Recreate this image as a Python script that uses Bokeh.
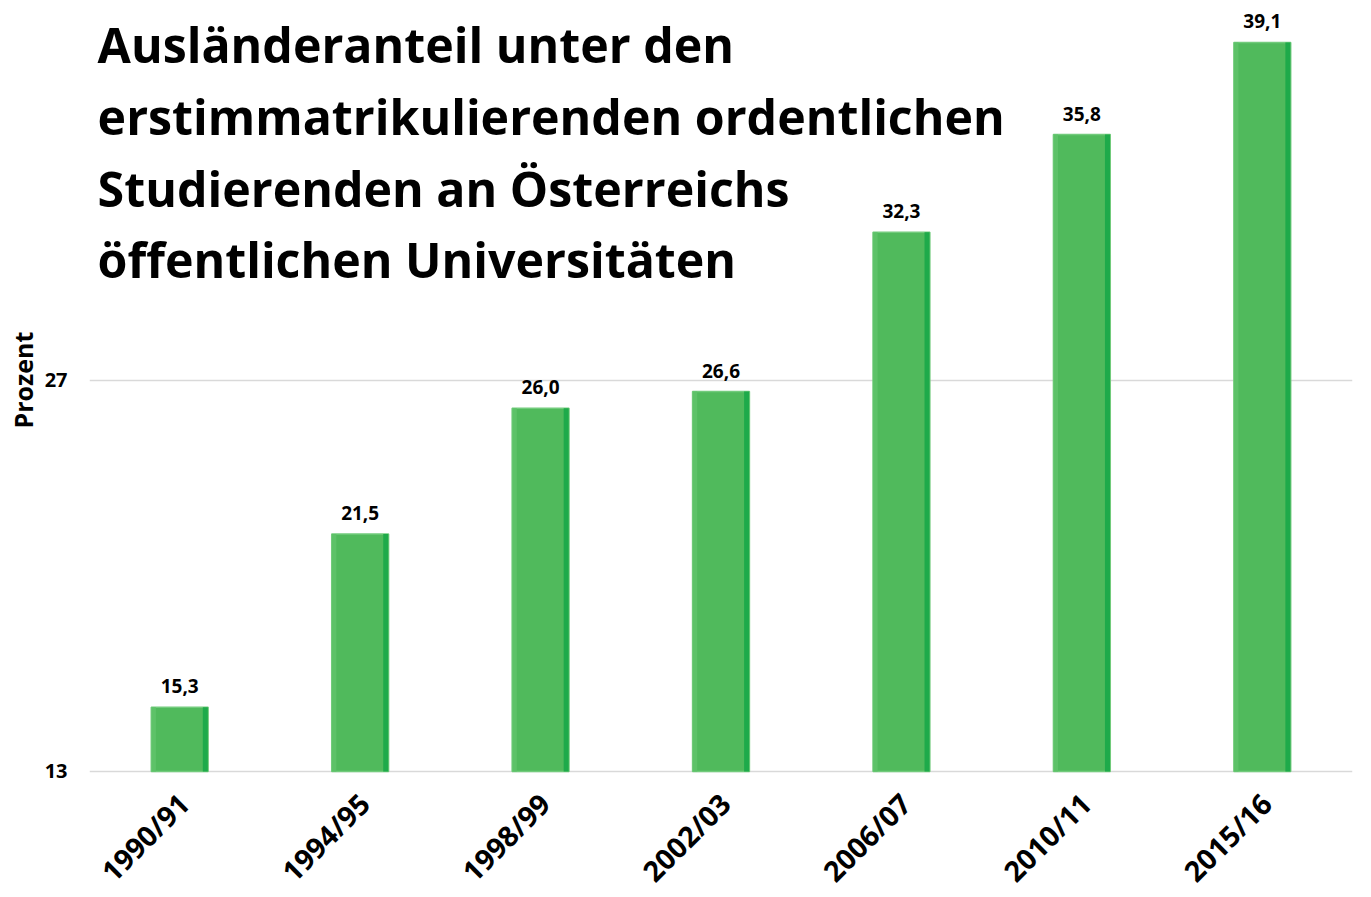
from bokeh.plotting import figure
from bokeh.models import ColumnDataSource, Range1d, FactorRange, FixedTicker, Label, LabelSet
from bokeh.transform import dodge
from bokeh.core.properties import value
from bokeh.embed import file_html
from bokeh.resources import INLINE

years = ["1990/91", "1994/95", "1998/99", "2002/03", "2006/07", "2010/11", "2015/16"]
values = [15.3, 21.5, 26.0, 26.6, 32.3, 35.8, 39.1]
value_labels = ["15,3", "21,5", "26,0", "26,6", "32,3", "35,8", "39,1"]
y_ticks = [13, 27]
title_lines = [
    "Ausländeranteil unter den",
    "erstimmatrikulierenden ordentlichen",
    "Studierenden an Österreichs",
    "öffentlichen Universitäten",
]
y_label = "Prozent"

FONT = "Open Sans"
Y0 = 13

src = ColumnDataSource(dict(x=years, top=values, lab=value_labels))

# the frame reaches the bottom edge so that the rotated category labels
# (drawn below the 13 baseline) are not clipped
p = figure(
    x_range=FactorRange(*years, range_padding=0),
    y_range=Range1d(8.775, 40.6),
    width=1363, height=889,
    output_backend="svg", toolbar_location=None,
    min_border_left=89, min_border_right=11, min_border_top=0, min_border_bottom=0,
)
p.outline_line_color = None
p.background_fill_color = "white"
p.border_fill_color = "white"

# main bars
p.vbar(x="x", top="top", bottom=Y0, width=0.315, source=src,
       fill_color="#50BA5C", line_color="#72CB7C", line_width=1.5)
# bevel: darker right edge strip
p.vbar(x=dodge("x", 0.142, range=p.x_range), top="top", bottom=Y0, width=0.028, source=src,
       fill_color="#1EAA4A", line_color=None)
# lighter left edge strip
p.vbar(x=dodge("x", -0.144, range=p.x_range), top="top", bottom=Y0, width=0.024, source=src,
       fill_color="#5DC268", line_color=None)

labels = LabelSet(x="x", y="top", text="lab", source=src, x_offset=0, y_offset=14,
                  text_align="center", text_baseline="bottom",
                  text_font=value(FONT), text_font_style="bold", text_font_size="19px",
                  text_color="black")
p.add_layout(labels)

# category labels (rotated 45°)
cat_labels = LabelSet(x="x", y=Y0, text="x", source=src, x_offset=4, y_offset=-27,
                      angle=0.785398, text_align="right", text_baseline="middle",
                      text_font=value(FONT), text_font_style="bold", text_font_size="28.5px",
                      text_color="black")
p.add_layout(cat_labels)
p.xaxis.visible = False

# y axis
p.yaxis.ticker = FixedTicker(ticks=y_ticks)
p.yaxis.axis_line_color = None
p.yaxis.major_tick_line_color = None
p.yaxis.minor_tick_line_color = None
p.yaxis.major_tick_out = 0
p.yaxis.major_tick_in = 0
p.yaxis.minor_tick_out = 0
p.yaxis.major_label_text_font = FONT
p.yaxis.major_label_text_font_style = "bold"
p.yaxis.major_label_text_font_size = "20px"
p.yaxis.major_label_text_color = "black"
p.yaxis.major_label_standoff = 22
# leading no-break spaces lift the centred axis title to the reference's height
p.yaxis.axis_label = "\u00a0" * 20 + y_label
p.yaxis.axis_label_text_font = FONT
p.yaxis.axis_label_text_font_style = "bold"
p.yaxis.axis_label_text_font_size = "25px"
p.yaxis.axis_label_text_color = "black"
p.yaxis.axis_label_standoff = 2

p.xgrid.grid_line_color = None
p.ygrid.ticker = FixedTicker(ticks=y_ticks)
p.ygrid.grid_line_color = "#D9D9D9"
p.ygrid.grid_line_width = 1.5

# title lines
base_y = [39.03, 36.45, 33.87, 31.36]
for line, yy in zip(title_lines, base_y):
    p.add_layout(Label(x=0.045, y=yy, text=line, text_font=FONT, text_font_style="bold",
                       text_font_size="48.3px", text_color="black", text_baseline="alphabetic"))

open("out.html", "w").write(file_html(p, INLINE))
